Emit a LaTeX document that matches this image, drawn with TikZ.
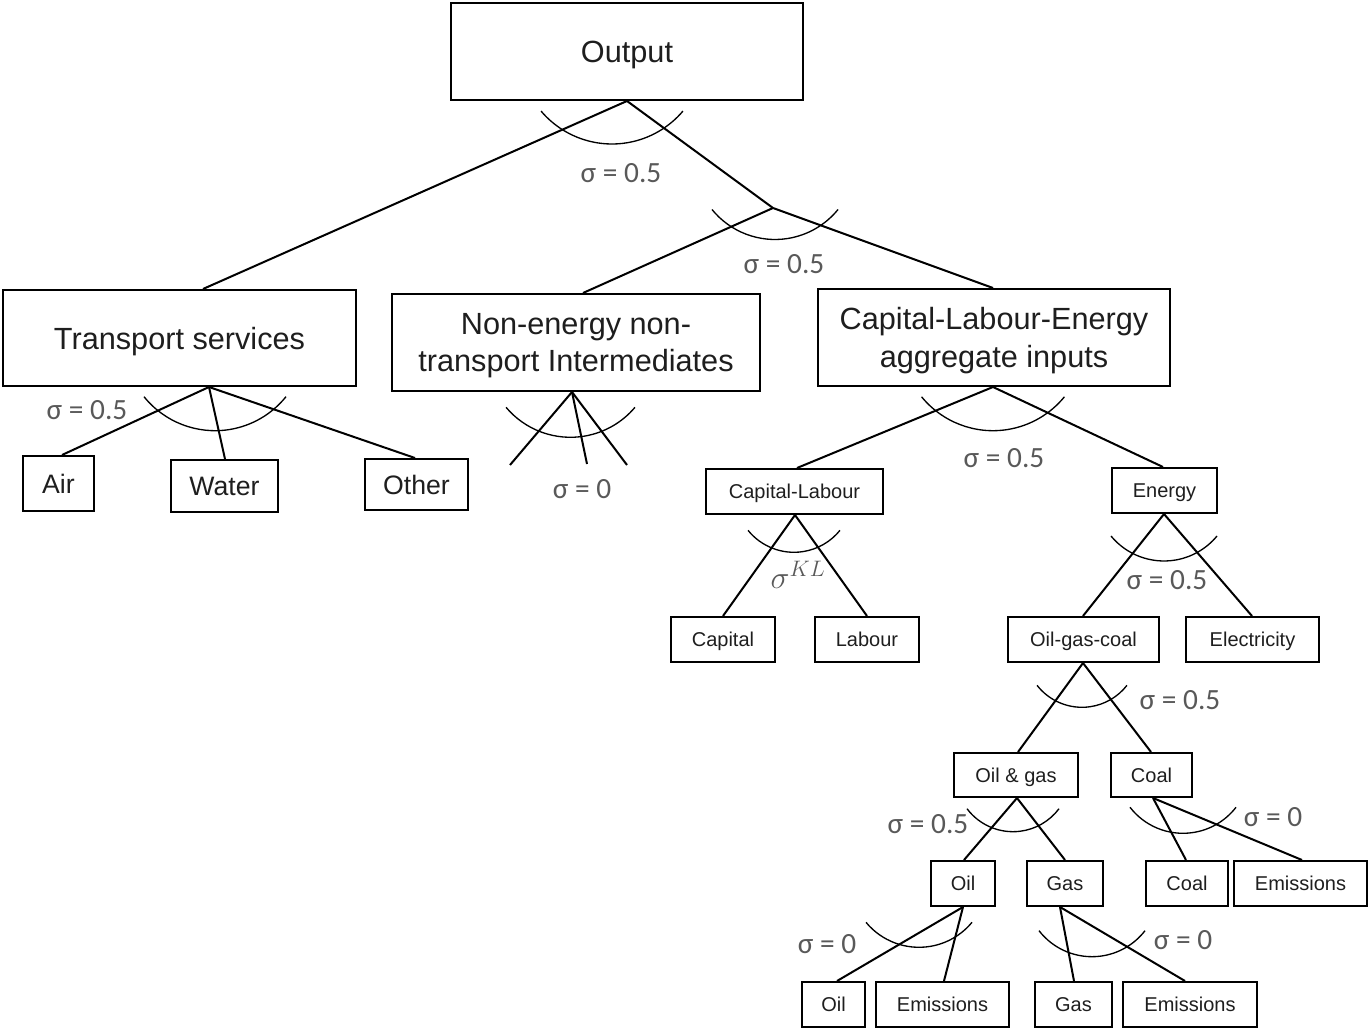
\documentclass[tikz,border=0pt]{standalone}
\usepackage{fix-cm}
\usepackage{fontspec}
\newfontfamily\boxfont{Liberation Sans}
\newfontfamily\sigfont{Carlito}
\definecolor{txt}{HTML}{1E1E1E}
\definecolor{sig}{HTML}{595959}
\newcommand{\fbig}{\boxfont\fontsize{23}{28}\selectfont}
\newcommand{\fmid}{\boxfont\fontsize{20}{24}\selectfont}
\newcommand{\fsml}{\boxfont\fontsize{15}{18}\selectfont}
\newcommand{\fsig}{\sigfont\fontsize{22}{26}\selectfont}
\tikzset{
  boxbase/.style={draw, line width=1.5pt, inner sep=0pt, align=center, text=txt, text depth=0pt},
  bigbox/.style={boxbase, font=\fbig},
  midbox/.style={boxbase, font=\fmid},
  smlbox/.style={boxbase, font=\fsml},
  con/.style={line width=1.5pt},
  arcl/.style={line width=1pt},
  siglab/.style={inner sep=0pt, text=sig, font=\fsig}
}
% box: x1 y1 x2 y2 name style text
\newcommand{\bx}[7]{\node[#6, minimum width={(#3-#1)*0.75pt}, minimum height={(#4-#2)*0.75pt}] (#5) at ({(#1+#3)/2},{(#2+#4)/2}) {#7};}
% arc: bottom x, bottom y, radius, half angle
\newcommand{\sarc}[4]{\draw[arcl] ([shift={({90+#4}:#3)}] #1,{#2-#3}) arc[start angle={90+#4}, end angle={90-#4}, radius=#3];}
\begin{document}
\begin{tikzpicture}[x=0.75pt,y=-0.75pt]
\useasboundingbox (0,0) rectangle (1368,1030);
% boxes
\bx{451}{3}{803}{100}{out}{bigbox}{Output}
\bx{3}{290}{356}{386}{tr}{bigbox}{Transport services}
\bx{392}{294}{760}{391}{ne}{bigbox}{Non-energy non-\\transport Intermediates}
\bx{818}{289}{1170}{386}{cle}{bigbox}{Capital-Labour-Energy\\aggregate inputs}
\bx{23}{456}{94}{511}{air}{midbox}{Air}
\bx{171}{460}{278}{512}{wat}{midbox}{Water}
\bx{365}{459}{468}{510}{oth}{midbox}{Other}
\bx{706}{469}{883}{514}{kl}{smlbox}{Capital-Labour}
\bx{1112}{468}{1217}{513}{en}{smlbox}{Energy}
\bx{671}{617}{775}{662}{cap}{smlbox}{Capital}
\bx{815}{617}{919}{662}{lab}{smlbox}{Labour}
\bx{1008}{617}{1159}{662}{ogc}{smlbox}{Oil-gas-coal}
\bx{1186}{617}{1319}{662}{ele}{smlbox}{Electricity}
\bx{954}{753}{1078}{797}{og}{smlbox}{Oil \& gas}
\bx{1111}{753}{1192}{797}{coal}{smlbox}{Coal}
\bx{931}{861}{995}{906}{oil}{smlbox}{Oil}
\bx{1027}{861}{1103}{906}{gas}{smlbox}{Gas}
\bx{1146}{861}{1228}{906}{coalb}{smlbox}{Coal}
\bx{1234}{861}{1367}{906}{emc}{smlbox}{Emissions}
\bx{802}{982}{865}{1027}{oilb}{smlbox}{Oil}
\bx{876}{982}{1009}{1027}{emo}{smlbox}{Emissions}
\bx{1035}{982}{1112}{1027}{gasb}{smlbox}{Gas}
\bx{1123}{982}{1257}{1027}{emg}{smlbox}{Emissions}
% free points
\coordinate (j1) at (773,208);
\coordinate (nea) at (510,465);
\coordinate (neb) at (587,464);
\coordinate (nec) at (627,465);
% connectors
\draw[con] (out.south -| 627,0) -- (tr.north -| 203,0);
\draw[con] (out.south -| 627,0) -- (j1);
\draw[con] (j1) -- (ne.north -| 583,0);
\draw[con] (j1) -- (cle.north -| 993,0);
\draw[con] (tr.south -| 209,0) -- (air.north -| 62,0);
\draw[con] (tr.south -| 209,0) -- (wat.north -| 225,0);
\draw[con] (tr.south -| 209,0) -- (oth.north -| 415,0);
\draw[con] (ne.south -| 572,0) -- (nea);
\draw[con] (ne.south -| 572,0) -- (neb);
\draw[con] (ne.south -| 572,0) -- (nec);
\draw[con] (cle.south -| 993,0) -- (kl.north -| 797,0);
\draw[con] (cle.south -| 993,0) -- (en.north -| 1163,0);
\draw[con] (kl.south -| 795,0) -- (cap.north -| 723,0);
\draw[con] (kl.south -| 795,0) -- (lab.north -| 867,0);
\draw[con] (en.south -| 1164,0) -- (ogc.north -| 1083,0);
\draw[con] (en.south -| 1164,0) -- (ele.north -| 1252,0);
\draw[con] (ogc.south -| 1083,0) -- (og.north -| 1018,0);
\draw[con] (ogc.south -| 1083,0) -- (coal.north -| 1151,0);
\draw[con] (og.south -| 1017,0) -- (oil.north -| 964,0);
\draw[con] (og.south -| 1017,0) -- (gas.north -| 1065,0);
\draw[con] (coal.south -| 1153,0) -- (coalb.north -| 1186,0);
\draw[con] (coal.south -| 1153,0) -- (emc.north -| 1302,0);
\draw[con] (oil.south -| 963,0) -- (oilb.north -| 837,0);
\draw[con] (oil.south -| 963,0) -- (emo.north -| 944,0);
\draw[con] (gas.south -| 1060,0) -- (gasb.north -| 1074,0);
\draw[con] (gas.south -| 1060,0) -- (emg.north -| 1185,0);
% arcs
\sarc{612}{144}{92.9}{49.8}
\sarc{775}{239.5}{81.2}{50.9}
\sarc{215}{430.7}{91.1}{51.2}
\sarc{570.5}{437.3}{84.3}{49.9}
\sarc{993}{430.7}{92.2}{50.8}
\sarc{794}{552.3}{59.1}{51.1}
\sarc{1164}{561}{68.7}{50.5}
\sarc{1082}{707.3}{57}{52.1}
\sarc{1013}{831.7}{57.5}{53.1}
\sarc{1183}{833.3}{67}{52.3}
\sarc{919}{947.3}{68.7}{50.5}
\sarc{1092}{956.7}{67}{52.3}
% sigma labels
\node[siglab] (s1) at (621,173) {σ = 0.5};
\node[siglab] (s2) at (784,264) {σ = 0.5};
\node[siglab] (s3) at (87,410) {σ = 0.5};
\node[siglab] (s4) at (582,489) {σ = 0};
\node[siglab] (s5) at (1004,458) {σ = 0.5};
\node[inner sep=0pt, text=sig, font=\fontsize{24}{28}\selectfont] (s6) at (798,575) {$\sigma^{KL}$};
\node[siglab] (s7) at (1167,580) {σ = 0.5};
\node[siglab] (s8) at (1180,700) {σ = 0.5};
\node[siglab] (s9) at (928,824) {σ = 0.5};
\node[siglab] (s10) at (1273,817) {σ = 0};
\node[siglab] (s11) at (827,944) {σ = 0};
\node[siglab] (s12) at (1183,940) {σ = 0};
\end{tikzpicture}
\end{document}
